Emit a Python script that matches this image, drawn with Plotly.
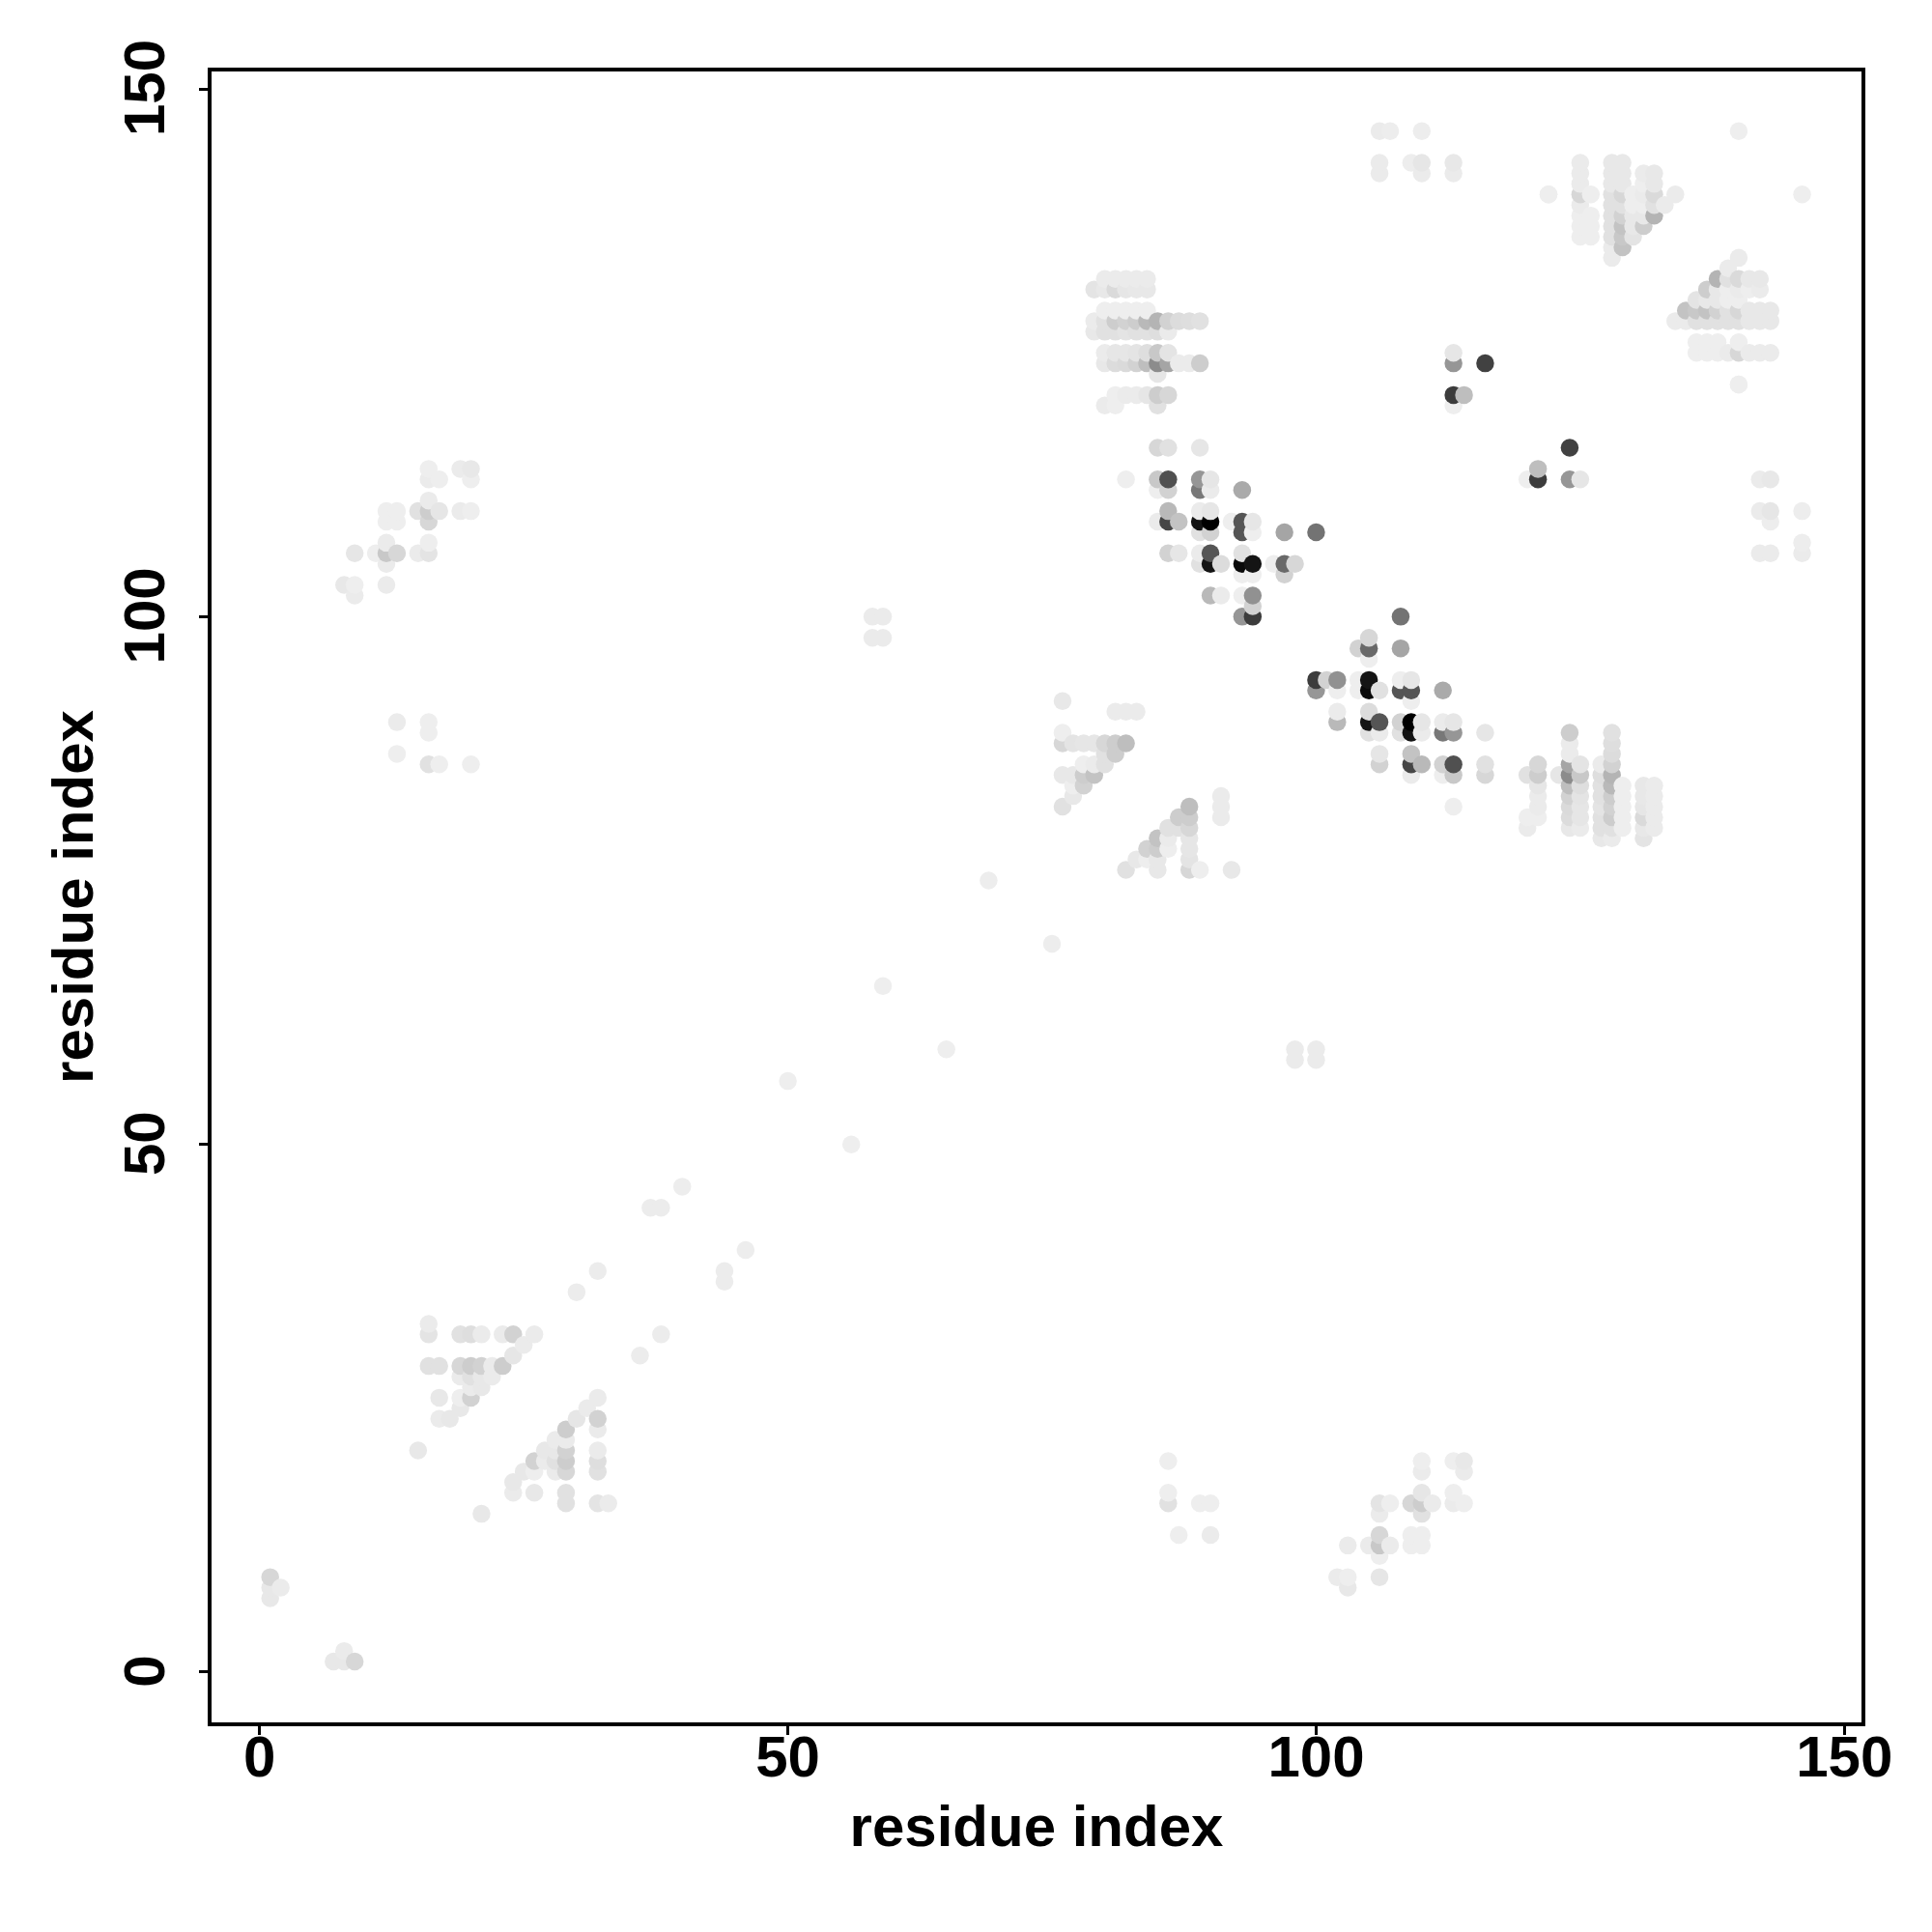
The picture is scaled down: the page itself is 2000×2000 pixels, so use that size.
import numpy as np
import plotly.graph_objects as go

# One row per higher residue j: partner residues i and contact strength (0 faint .. 240 black).
residue_j = [7, 8, 9, 21, 24, 25, 26, 27, 28, 29, 30, 31, 32, 33,
             36, 38, 44, 46, 56, 65, 75,
             82, 83, 84, 85, 86, 87, 88, 89, 90, 91, 92,
             98, 100, 101, 102, 103, 104, 105, 106, 107, 108, 109, 110, 111, 112, 113, 114, 116,
             120, 121, 122, 123, 124, 125, 127, 128, 129, 131, 132,
             134, 135, 136, 137, 138, 139, 140, 141, 142, 143, 146]
residue_i = [
    [1], [1, 2], [1], [15], [17, 18], [19], [17, 19, 20], [20, 21], [19, 20, 21, 22],
    [16, 17, 19, 20, 21, 22, 23], [24], [25], [16, 19, 20, 21, 23, 24, 26], [16],
    [30], [32], [37, 38], [40], [50], [59], [69],
    [76], [77], [77, 78], [76, 77, 78, 79], [16, 17, 20, 78, 79, 80], [13, 80, 81],
    [76, 77, 78, 79, 80, 81, 82], [16, 76], [13, 16], [81, 82, 83], [76],
    [58, 59], [58, 59, 93, 94], [94], [9, 90, 91, 93, 94], [8, 9, 12], [93, 94, 97],
    [12, 89, 90, 91, 93, 94, 96, 97, 98],
    [9, 11, 12, 13, 15, 16, 86, 87, 89, 90, 93], [12, 16], [89, 90, 93, 94, 97, 100],
    [12, 13, 16, 85, 86, 87, 89, 90, 92, 93, 94],
    [12, 13, 15, 16, 17, 19, 20, 86, 89, 90], [16], [85, 86, 89, 90, 93],
    [16, 17, 20, 82, 85, 86, 89, 90], [16, 19, 20], [85, 86, 89],
    [80, 81, 85, 113], [81, 82, 83, 84, 85, 86, 113, 114], [140], [85],
    [80, 81, 82, 83, 84, 85, 86, 87, 88, 89, 113, 116],
    [80, 81, 82, 83, 84, 85, 86, 113], [79, 80, 81, 82, 83, 84, 85, 86],
    [79, 80, 81, 82, 83, 84, 85, 86, 87, 88, 89], [80, 81, 82, 83, 84],
    [79, 80, 81, 82, 83, 84], [80, 81, 82, 83, 84],
    [128], [128, 129], [125, 126, 128, 129, 130], [125, 126, 128, 129, 130, 131],
    [125, 126, 128, 129, 130, 131, 132], [125, 128, 129, 130, 131, 132, 133],
    [122, 125, 126, 128, 129, 130, 131, 132, 134], [125, 128, 129, 131, 132],
    [106, 110, 113, 125, 128, 129, 131, 132], [106, 109, 110, 113, 125, 128, 129],
    [106, 107, 110, 140],
]
strength = [
    [8], [8, 5], [25], [8], [5, 8], [8], [8, 2, 30], [5, 8], [5, 15, 8, 5],
    [15, 15, 25, 35, 30, 5, 35], [10], [5], [12, 15, 18, 5, 5, 30, 5], [5],
    [4], [4], [4, 4], [3], [2], [2], [3],
    [15], [8], [2, 30], [8, 8, 35, 45], [15, 2, 2, 2, 5, 15], [2, 15, 35],
    [25, 12, 10, 10, 25, 35, 50], [2, 2], [5, 2], [5, 5, 5], [8],
    [5, 5], [5, 5, 90, 180], [30], [5, 55, 5, 2, 95], [8, 2, 5], [2, 2, 30],
    [5, 15, 220, 20, 230, 220, 2, 135, 25],
    [10, 2, 40, 25, 5, 12, 30, 10, 5, 155, 15], [5, 2], [15, 30, 155, 2, 75, 125],
    [2, 2, 25, 5, 170, 45, 220, 240, 2, 155, 10],
    [2, 2, 15, 35, 10, 5, 2, 55, 5, 10], [5], [2, 30, 120, 5, 70],
    [5, 2, 2, 2, 40, 160, 90, 10], [2, 5, 8], [25, 15, 10],
    [5, 2, 15, 2], [2, 5, 5, 10, 35, 25, 180, 50], [3], [10],
    [8, 20, 22, 30, 50, 100, 75, 5, 5, 35, 90, 175],
    [5, 10, 10, 12, 18, 40, 12, 10], [8, 15, 15, 12, 15, 15, 18, 5],
    [5, 15, 35, 30, 35, 55, 60, 30, 20, 18, 15], [2, 2, 2, 2, 2],
    [12, 8, 22, 10, 8, 8], [5, 5, 5, 5, 5],
    [5], [5, 45], [2, 2, 15, 40, 12], [2, 2, 15, 45, 8, 35],
    [2, 2, 15, 30, 8, 8, 60], [5, 15, 15, 2, 2, 15, 5],
    [2, 25, 2, 15, 25, 2, 5, 22, 5], [5, 8, 8, 2, 8],
    [5, 5, 5, 5, 8, 8, 5, 8], [5, 3, 10, 8, 5, 8, 8],
    [5, 3, 3, 2],
]
x_ticks = [0, 50, 100, 150]
y_ticks = [0, 50, 100, 150]
axis_label = "residue index"

xs, ys, cs = [], [], []
for j, row_i, row_s in zip(residue_j, residue_i, strength):
    assert len(row_i) == len(row_s), j
    for i, s in zip(row_i, row_s):
        # the contact map is symmetric
        xs += [i, j]
        ys += [j, i]
        cs += [s, s]
xs, ys, cs = np.array(xs), np.array(ys), np.array(cs)
order = np.lexsort((ys, xs))

font_family = "Liberation Sans"
fig = go.Figure(go.Scatter(
    x=xs[order], y=ys[order], mode="markers",
    marker=dict(size=18.5, color=cs[order], cmin=0, cmax=240,
                colorscale=[[0, "rgb(240,240,240)"], [1, "rgb(0,0,0)"]],
                line=dict(width=0), showscale=False),
))
axis_common = dict(
    showgrid=False, zeroline=False, showline=True, mirror=True,
    linecolor="black", linewidth=3.6, ticks="outside", ticklen=9, tickwidth=3.2,
    tickcolor="black", tickfont=dict(family=font_family, size=60, color="black", weight=700),
)
fig.update_xaxes(
    range=[-4.55, 151.62], tickvals=x_ticks, ticktext=[str(v) for v in x_ticks],
    ticklabelstandoff=-29,
    title=dict(text=axis_label, standoff=19,
               font=dict(family=font_family, size=60, color="black", weight=700)),
    **axis_common)
fig.update_yaxes(
    range=[-4.76, 151.65], tickvals=y_ticks, ticktext=[str(v) for v in y_ticks], tickangle=-90,
    ticklabelstandoff=12, ticklabelshift=8,
    title=dict(text=axis_label, standoff=1,
               font=dict(family=font_family, size=60, color="black", weight=700)),
    **axis_common)
fig.update_layout(
    width=1984, height=1984, showlegend=False,
    paper_bgcolor="white", plot_bgcolor="white",
    margin=dict(l=210.5, r=65, t=65.5, b=209, autoexpand=False),
)
fig.write_html("out.html")
